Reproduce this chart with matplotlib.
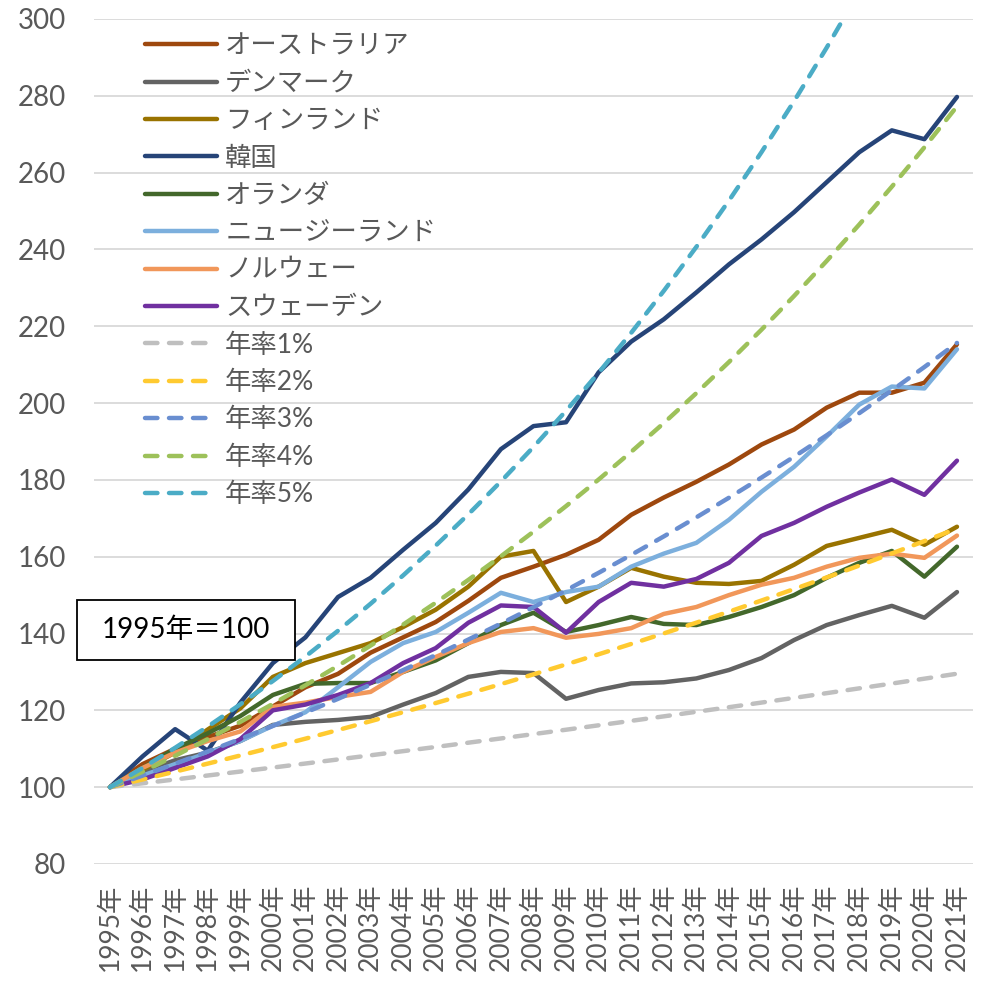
import matplotlib
matplotlib.use('Agg')
import matplotlib.pyplot as plt
from matplotlib.patches import Rectangle

plt.rcParams['font.family'] = ['Lato', 'Noto Sans CJK JP', 'DejaVu Sans']

# 1995年＝100 とした指数
years = list(range(1995, 2022))
year_labels = ['%d年' % y for y in years]

australia = [100, 106, 110, 113, 116, 121, 126, 129.5, 135, 139, 143, 148.5, 154.5, 157.4, 160.5, 164.4,
             170.9, 175.4, 179.5, 184, 189.2, 193.1, 198.8, 202.7, 202.7, 205.3, 215.3]
denmark = [100, 104, 107, 109, 112, 116.2, 117, 117.5, 118.3, 121.5, 124.5, 128.7, 130, 129.7, 123, 125.3,
           127, 127.3, 128.3, 130.5, 133.6, 138.3, 142.2, 144.8, 147.2, 144.1, 150.8]
finland = [100, 104.5, 109, 115, 120.5, 128.7, 132.3, 134.9, 137.5, 141.7, 146.2, 152.2, 160, 161.5, 148.2, 152.2,
           157.1, 154.8, 153.2, 152.9, 153.7, 157.9, 162.8, 164.9, 167, 163.1, 167.8]
korea = [100, 108, 115.1, 109.5, 122, 132.3, 139, 149.5, 154.5, 161.8, 168.8, 177.5, 188, 194, 195, 208,
         216, 221.8, 228.8, 236.1, 242.6, 249.7, 257.5, 265.3, 271, 268.7, 279.7]
netherlands = [100, 105, 110, 114, 118.5, 124, 126.9, 127.1, 127.1, 130, 133, 137.5, 142.2, 145.4, 140.4, 142.2,
               144.3, 142.5, 142.2, 144.3, 146.9, 150, 154.5, 158.4, 161.5, 154.8, 162.6]
new_zealand = [100, 103, 106, 108.9, 112, 116, 119.5, 126, 132.6, 137.5, 140.4, 145.4, 150.6, 148.2, 150.8, 152.2,
               157.4, 160.8, 163.6, 169.6, 176.9, 183.4, 191.3, 199.6, 204.3, 203.8, 214]
norway = [100, 105, 109, 112, 114.5, 120.9, 122, 123.5, 124.8, 130, 133.9, 137.5, 140.4, 141.4, 138.9, 139.9,
          141.4, 145.1, 146.9, 150, 152.7, 154.5, 157.4, 159.7, 160.8, 159.7, 165.5]
sweden = [100, 102, 105, 108, 112.5, 120, 121.5, 124, 127.1, 132.3, 136.2, 142.8, 147.3, 146.9, 140.2, 148.2,
          153.2, 152.2, 154.2, 158.4, 165.4, 168.8, 173, 176.7, 180.1, 176.1, 185]

# 年率一定で伸びた場合の参考線
rate_1 = [100, 101.0, 102.01, 103.03, 104.06, 105.10, 106.15, 107.21, 108.29, 109.37, 110.46, 111.57, 112.68,
          113.81, 114.95, 116.10, 117.26, 118.43, 119.62, 120.81, 122.02, 123.24, 124.47, 125.72, 126.97,
          128.24, 129.53]
rate_2 = [100, 102.0, 104.04, 106.12, 108.24, 110.41, 112.62, 114.87, 117.17, 119.51, 121.90, 124.34, 126.82,
          129.36, 131.95, 134.59, 137.28, 140.02, 142.82, 145.68, 148.59, 151.57, 154.60, 157.69, 160.84,
          164.06, 167.34]
rate_3 = [100, 103.0, 106.09, 109.27, 112.55, 115.93, 119.41, 122.99, 126.68, 130.48, 134.39, 138.42, 142.58,
          146.85, 151.26, 155.80, 160.47, 165.28, 170.24, 175.35, 180.61, 186.03, 191.61, 197.36, 203.28,
          209.38, 215.66]
rate_4 = [100, 104.0, 108.16, 112.49, 116.99, 121.67, 126.53, 131.59, 136.86, 142.33, 148.02, 153.95, 160.10,
          166.51, 173.17, 180.09, 187.30, 194.79, 202.58, 210.68, 219.11, 227.88, 236.99, 246.47, 256.33,
          266.58, 277.25]
rate_5 = [100, 105.0, 110.25, 115.76, 121.55, 127.63, 134.01, 140.71, 147.75, 155.13, 162.89, 171.03, 179.59,
          188.56, 197.99, 207.89, 218.29, 229.20, 240.66, 252.70, 265.33, 278.60, 292.53, 307.15, 322.51,
          338.64, 355.57]

countries = [
    ('オーストラリア', australia, '#9E480E'),
    ('デンマーク', denmark, '#636363'),
    ('フィンランド', finland, '#997300'),
    ('韓国', korea, '#264478'),
    ('オランダ', netherlands, '#43682B'),
    ('ニュージーランド', new_zealand, '#7CAFDD'),
    ('ノルウェー', norway, '#F1975A'),
    ('スウェーデン', sweden, '#7030A0'),
]
rates = [
    ('年率1%', rate_1, '#BFBFBF'),
    ('年率2%', rate_2, '#FFCA30'),
    ('年率3%', rate_3, '#698ED0'),
    ('年率4%', rate_4, '#9DC15A'),
    ('年率5%', rate_5, '#4BACC6'),
]

fig = plt.figure(figsize=(9.82, 9.83), dpi=100)
ax = fig.add_axes([0.0954, 0.1211, 0.8957, 0.8596])

x = list(range(len(years)))
for name, vals, col in countries:
    ax.plot(x, vals, color=col, lw=3.2, label=name, solid_capstyle='round', solid_joinstyle='round')
for name, vals, col in rates:
    ax.plot(x, vals, color=col, lw=3.2, label=name, dashes=(2.8, 2.6), dash_capstyle='round')

ax.set_ylim(80, 300)
ax.set_xlim(-0.5, len(years) - 0.5)
ax.set_yticks(range(80, 301, 20))
ax.set_xticks(x)
ax.set_xticklabels(year_labels, rotation=90)
ax.yaxis.grid(True, color='#D9D9D9', lw=1.3)
ax.set_axisbelow(True)
for s in ax.spines.values():
    s.set_visible(False)
ax.tick_params(axis='y', length=0, pad=20, labelsize=20, labelcolor='#595959')
ax.tick_params(axis='x', length=0, pad=14, labelsize=19, labelcolor='#595959')

leg = ax.legend(loc='upper left', bbox_to_anchor=(0.058, 0.983), frameon=False, fontsize=19,
                handlelength=2.75, handletextpad=0.3, labelspacing=0.47, borderpad=0.0,
                borderaxespad=0.0)
for t in leg.get_texts():
    t.set_color('#595959')

# 基準年の注記ボックス
ax.add_patch(Rectangle((-0.019, 0.2414), 0.248, 0.071, transform=ax.transAxes, fc='white',
                       ec='black', lw=1.3, clip_on=False, zorder=5))
ax.text(0.105, 0.2769, '1995年＝100', transform=ax.transAxes, fontsize=20, color='black',
        ha='center', va='center', zorder=6)

fig.savefig('out.png', dpi=100)
